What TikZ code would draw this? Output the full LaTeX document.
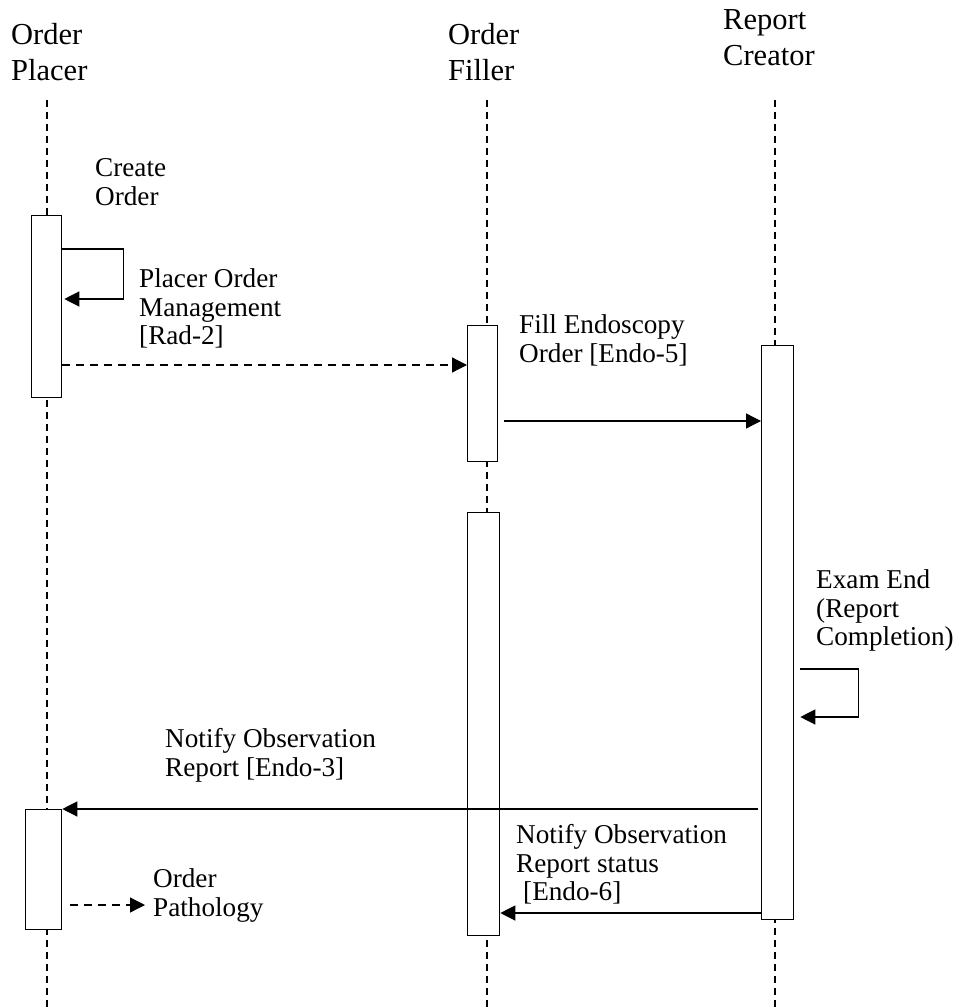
\documentclass[tikz,border=0pt]{standalone}
\usepackage{fontspec}
\setmainfont{Liberation Serif}
\usetikzlibrary{arrows.meta,calc}
\begin{document}
\begin{tikzpicture}[x=1pt,y=-1pt,
 lifeline/.style={line width=1.3pt, dash pattern=on 7pt off 5pt},
 actbox/.style={draw, fill=white, line width=1.3pt, inner sep=0pt, anchor=north west},
 msg/.style={line width=1.3pt, -{Triangle[length=15pt,width=15pt]}},
 dmsg/.style={msg, dash pattern=on 8pt off 6pt},
 hdr/.style={anchor=north west, inner sep=0pt, font=\fontsize{30.5}{36}\selectfont, align=left},
 lbl/.style={anchor=north west, inner sep=0pt, font=\fontsize{27.2}{28.5}\selectfont, align=left}]
\useasboundingbox (0,0) rectangle (952,1008);

% headers
\node[hdr] (hp) at (11,23.5) {Order\\Placer};
\node[hdr] (hf) at (448,23.5) {Order\\Filler};
\node[hdr] (hr) at (723,9) {Report\\Creator};

% lifelines
\coordinate (plt) at (47,100);  \coordinate (plb) at (47,1008);
\coordinate (flt) at (487,100); \coordinate (flb) at (487,1008);
\coordinate (rlt) at (775,100); \coordinate (rlb) at (775,1008);
\draw[lifeline] (plt) -- (plb);
\draw[lifeline] (flt) -- (flb);
\draw[lifeline] (rlt) -- (rlb);

% activation boxes
\node[actbox, minimum width=30pt, minimum height=182pt] (p1) at (31,215) {};
\node[actbox, minimum width=30pt, minimum height=136pt] (f1) at (467,325) {};
\node[actbox, minimum width=32pt, minimum height=574pt] (r1) at (761,345) {};
\node[actbox, minimum width=32pt, minimum height=423pt] (f2) at (467,512) {};
\node[actbox, minimum width=36pt, minimum height=120pt] (p2) at (25,809) {};

% messages
\draw[msg] ([yshift=-34pt]p1.north east) -- ++(61,0) |- ([xshift=2pt,yshift=-84pt]p1.north east);
\draw[dmsg] ([yshift=-150pt]p1.north east) -- ([yshift=-40pt]f1.north west);
\draw[msg] ([xshift=6pt,yshift=-96pt]f1.north east) -- ([yshift=-76pt]r1.north west);
\draw[msg] ([xshift=6pt,yshift=-324pt]r1.north east) -- ++(58,0) |- ([xshift=6pt,yshift=-372pt]r1.north east);
\draw[msg] ([xshift=-3pt,yshift=-464pt]r1.north west) -- (p2.north east);
\coordinate (path) at (145,905);
\draw[dmsg] ([xshift=8pt,yshift=-96pt]p2.north east) -- (path);
\draw[msg] ([yshift=-568pt]r1.north west) -- ([yshift=-401pt]f2.north east);

% labels
\node[lbl] (l1) at (95,158.5) {Create\\Order};
\node[lbl] (l2) at (139,268.5) {Placer Order\\Management\\[0pt][Rad-2]};
\node[lbl] (l3) at (519,314.5) {Fill Endoscopy\\Order [Endo-5]};
\node[lbl] (l4) at (816,569.5) {Exam End\\(Report\\Completion)};
\node[lbl] (l5) at (165,728.5) {Notify Observation\\Report [Endo-3]};
\node[lbl] (l6) at (153,868.5) {Order\\Pathology};
\node[lbl] (l7) at (516,824.5) {Notify Observation\\Report status\\\hspace*{7pt}[Endo-6]};
\end{tikzpicture}
\end{document}
